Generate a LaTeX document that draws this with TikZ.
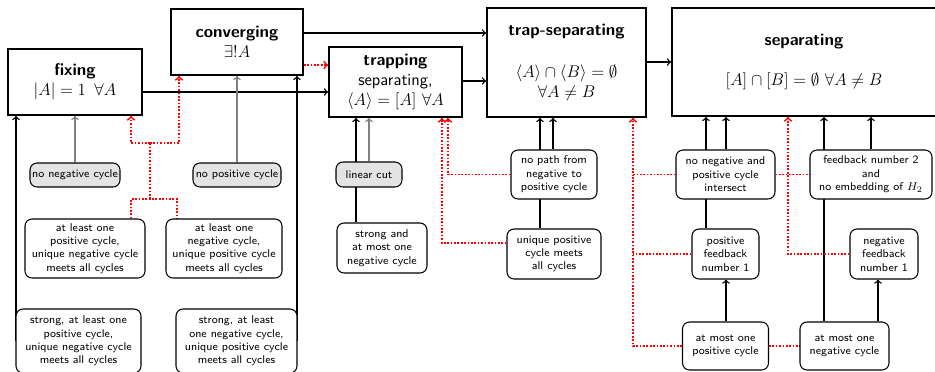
\documentclass[tikz,border=0pt]{standalone}
\usetikzlibrary{backgrounds}
\tikzset{
  main/.style={draw, line width=1.3pt, fill=white, align=center, inner sep=0pt, font=\sffamily\large},
  cond/.style={draw, line width=0.75pt, rounded corners=5pt, fill=white, align=center, inner sep=0pt, font=\sffamily\footnotesize},
  gcond/.style={cond, fill=gray!22},
  sz/.style 2 args={minimum width=#1*0.71pt, minimum height=#2*0.71pt},
  arr/.style={->, line width=1pt},
  garr/.style={->, line width=1pt, gray},
  rline/.style={red, line width=1.2pt, dash pattern=on 1.2pt off 1.2pt},
  rarr/.style={rline, ->}}
\begin{document}
\begin{tikzpicture}[x=0.71pt,y=-0.71pt,font=\sffamily]
\useasboundingbox (0,0) rectangle (935,371);
% main boxes
\node[main, sz={134}{66}] (fix) at (75,82) {\textbf{fixing}\\$|A| = 1\enspace \forall A$};
\node[main, sz={132}{66}] (conv) at (237,42) {\textbf{converging}\\$\exists! A$};
\node[main, sz={133}{70}] (trap) at (395.5,82) {\textbf{trapping}\\separating,\\$\langle A\rangle = [A]\ \forall A$};
\node[main, sz={159}{109}] (tsep) at (566.5,62.5) {\textbf{trap-separating}\\[16pt]$\langle A\rangle \cap \langle B\rangle = \emptyset$\\$\forall A \neq B$};
\node[main, sz={264}{108}] (sep) at (804,62) {\textbf{separating}\\[14pt]$[A]\cap[B] = \emptyset\ \forall A \neq B$};
% conditions
\node[gcond, sz={90}{24}] (noneg) at (75,175) {no negative cycle};
\node[gcond, sz={88}{24}] (nopos) at (237,175) {no positive cycle};
\node[cond, sz={120}{59}] (ml) at (85,248.5) {at least one\\positive cycle,\\unique negative cycle\\meets all cycles};
\node[cond, sz={116}{59}] (mr) at (224,248.5) {at least one\\negative cycle,\\unique positive cycle\\meets all cycles};
\node[cond, sz={125}{64}] (bl) at (78.5,341) {strong, at least one\\positive cycle,\\unique negative cycle\\meets all cycles};
\node[cond, sz={121}{64}] (br) at (236.5,341) {strong, at least\\one negative cycle,\\unique positive cycle\\meets all cycles};
\node[gcond, sz={66}{25}] (lincut) at (369,174.5) {linear cut};
\node[cond, sz={90}{50}] (stronga) at (382,248) {strong and\\at most one\\negative cycle};
\node[cond, sz={86}{49}] (nopath) at (554,174.5) {no path from\\negative to\\positive cycle};
\node[cond, sz={94}{50}] (uniq) at (554,254) {unique positive\\cycle meets\\all cycles};
\node[cond, sz={99}{49}] (inter) at (725.5,174.5) {no negative and\\positive cycle\\intersect};
\node[cond, sz={122}{49}] (fb2) at (871,174.5) {feedback number 2\\and\\no embedding of $H_2$};
\node[cond, sz={67}{50}] (posfb) at (725.5,254) {positive\\feedback\\number 1};
\node[cond, sz={68}{50}] (negfb) at (884,254) {negative\\feedback\\number 1};
\node[cond, sz={86}{48}] (amop) at (725.5,346) {at most one\\positive cycle};
\node[cond, sz={89}{48}] (amon) at (844.5,346) {at most one\\negative cycle};
\coordinate (j1) at (150,199);
\coordinate (j2) at (150,143);
\coordinate (rx) at (633,0);
\begin{scope}[on background layer]
% black arrows between main boxes
\draw[arr] (fix.east |- 0,92) -- (trap.west |- 0,92);
\draw[arr] (conv.east |- 0,33) -- (tsep.west |- 0,33);
\draw[arr] (trap.east |- 0,81) -- (tsep.west |- 0,81);
\draw[arr] (tsep.east |- 0,62) -- (sep.west |- 0,62);
\draw[rarr] (conv.east |- 0,65) -- (trap.west |- 0,65);
% left part
\draw[arr] (bl.west -| 16,0) -- (fix.south -| 16,0);
\draw[arr] (br.east -| 297,0) -- (conv.south -| 297,0);
\draw[garr] (noneg.north) -- (fix.south);
\draw[garr] (nopos.north) -- (conv.south);
\draw[rline] (ml.north -| 131,0) |- (j1) -| (mr.north -| 177,0);
\draw[rline] (j1) -- (j2);
\draw[rarr] (j2) -| (fix.south -| 131,0);
\draw[rarr] (j2) -| (conv.south -| 179,0);
% trapping
\draw[garr] (lincut.north -| 369,0) -- (trap.south -| 369,0);
\draw[arr] (stronga.north -| 356,0) -- (trap.south -| 356,0);
\draw[rarr] (uniq.west |- 0,243) -| (trap.south -| 442,0);
\draw[rarr] (nopath.west) -| (trap.south -| 448,0);
% trap-separating
\draw[arr] (uniq.north -| 540,0) -- (tsep.south -| 540,0);
\draw[arr] (nopath.north -| 553,0) -- (tsep.south -| 553,0);
\draw[rarr] (inter.west) -| (tsep.south -| rx);
\draw[rline] (posfb.west) -- (posfb.west -| rx);
\draw[rline] (amop.west) -| (inter.west -| rx);
% separating
\draw[arr] (posfb.north -| 706,0) -- (sep.south -| 706,0);
\draw[arr] (inter.north -| 726,0) -- (sep.south -| 726,0);
\draw[arr] (amon.north -| 824,0) -- (sep.south -| 824,0);
\draw[arr] (fb2.north -| 871,0) -- (sep.south -| 871,0);
\draw[arr] (amop.north -| 726,0) -- (posfb.south -| 726,0);
\draw[arr] (amon.north -| 878,0) -- (negfb.south -| 878,0);
\draw[rline] (inter.east) -- (fb2.west);
\draw[rarr] (negfb.west) -| (sep.south -| 788,0);
\draw[rline] (amop.east) -- (amon.west);
\end{scope}
\end{tikzpicture}
\end{document}
